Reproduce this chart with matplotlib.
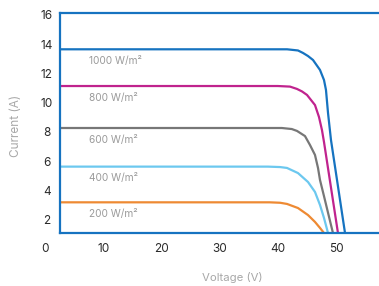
import matplotlib
matplotlib.use("Agg")
from matplotlib import pyplot as plt

plt.rcParams['font.family'] = ['Inter', 'DejaVu Sans']

# I-V curves (voltage in V, current in A)
v1000 = [2.58, 41.6, 43.47, 44.33, 45.19, 46.05, 47.25, 47.94, 48.28, 48.63, 49.14, 51.55]
i1000 = [13.65, 13.65, 13.57, 13.40, 13.19, 12.92, 12.24, 11.55, 10.87, 9.30, 7.45, 1.09]
v800 = [2.58, 40.0, 42.10, 43.30, 44.16, 45.02, 46.39, 47.08, 47.59, 47.94, 50.34]
i800 = [11.14, 11.14, 11.10, 10.94, 10.77, 10.53, 9.84, 9.02, 8.13, 7.31, 1.09]
v600 = [2.58, 40.7, 42.4, 43.30, 44.67, 45.53, 46.39, 46.91, 47.25, 47.94, 49.48]
i600 = [8.27, 8.27, 8.20, 8.07, 7.72, 7.11, 6.43, 5.54, 4.72, 3.61, 1.09]
v400 = [2.58, 38.3, 40.4, 41.58, 43.47, 45.19, 46.39, 47.25, 47.94, 48.63]
i400 = [5.63, 5.63, 5.60, 5.54, 5.19, 4.58, 3.90, 3.01, 2.12, 1.09]
v200 = [2.58, 38.6, 40.4, 41.58, 43.47, 45.19, 46.39, 47.25, 47.94]
i200 = [3.19, 3.19, 3.16, 3.08, 2.80, 2.32, 1.85, 1.44, 1.09]

labels = ['1000 W/m²', '800 W/m²', '600 W/m²', '400 W/m²', '200 W/m²']
colors = ['#1673c0', '#c0238e', '#777777', '#6cc8ef', '#ee8a33']
curves = [(v1000, i1000), (v800, i800), (v600, i600), (v400, i400), (v200, i200)]

xticks = [0, 10, 20, 30, 40, 50]
yticks = [2, 4, 6, 8, 10, 12, 14, 16]
frame_left = 2.58
frame_bottom = 1.09
frame_top = 16.13
frame_color = '#1673c0'

fig = plt.figure(figsize=(3.79, 2.86), dpi=100)
ax = fig.add_axes([0, 0, 1, 1])
ax.set_xlim(-7.73, 57.39)
ax.set_ylim(-2.53, 17.02)

for (v, i), c, lab in zip(curves, colors, labels):
    ax.plot(v, i, color=c, lw=1.6, solid_capstyle='butt', solid_joinstyle='round')
    ax.text(7.5, i[0] - 0.8, lab, color='#9a9a9a', fontsize=7.3, va='center', ha='left')

ax.spines['right'].set_visible(False)
ax.spines['left'].set_position(('data', frame_left))
ax.spines['bottom'].set_position(('data', frame_bottom))
ax.spines['top'].set_position(('data', frame_top))
ax.spines['left'].set_bounds(frame_bottom, frame_top)
ax.spines['top'].set_bounds(frame_left, 57.39)
ax.spines['bottom'].set_bounds(frame_left, 57.39)
for s in ['left', 'bottom', 'top']:
    ax.spines[s].set_color(frame_color)
    ax.spines[s].set_linewidth(1.6)
    ax.spines[s].set_zorder(3)

ax.set_xticks(xticks)
ax.set_yticks(yticks)
ax.tick_params(axis='both', length=0, labelsize=8.5, labelcolor='#2a2a2a')
ax.tick_params(axis='y', pad=9.5)
ax.tick_params(axis='x', pad=7)
for t in ax.get_yticklabels():
    t.set_ha('center')
ax.patch.set_alpha(0)

fig.text(0.042, 0.56, 'Current (A)', rotation=90, color='#a8a8a8', fontsize=8.5,
         ha='center', va='center')
fig.text(0.612, 0.028, 'Voltage (V)', color='#a8a8a8', fontsize=8.2,
         ha='center', va='center')

fig.savefig('out.png', dpi=100)
